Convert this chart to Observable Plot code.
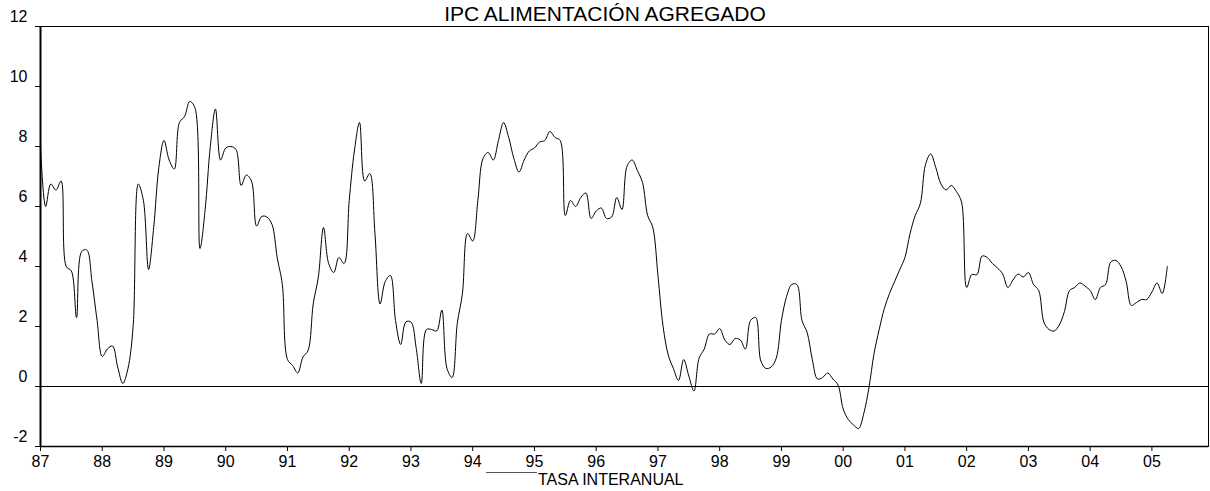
<!DOCTYPE html>
<html>
<head>
<meta charset="utf-8">
<script src="https://cdn.jsdelivr.net/npm/d3@7"></script>
<script src="https://cdn.jsdelivr.net/npm/@observablehq/plot@0.6"></script>
<style>
  html, body { margin: 0; padding: 0; background: #fff; }
  #wrap { position: relative; width: 1210px; height: 491px; font-family: "Liberation Sans", Arial, sans-serif; }
  #title { position: absolute; left: 0; width: 1210px; top: 2px; text-align: center; font-size: 21px; color: #000; }
  #legend { position: absolute; top: 469px; left: 486px; font-size: 16px; color: #000; display: flex; align-items: flex-start; }
  #legend .swatch { width: 51px; height: 0; border-top: 1.5px solid #555; margin-top: 3px; }
  #legend .lbl { margin-left: 1px; margin-top: 2px; }
</style>
</head>
<body>
<div id="wrap">
  <div id="chart"></div>
  <div id="title">IPC ALIMENTACIÓN AGREGADO</div>
  <div id="legend"><div class="swatch"></div><div class="lbl">TASA INTERANUAL</div></div>
</div>
<script>
// Monthly series, starting January 1987
const startYear = 1987;
const endYearFrac = 1987 + 227 / 12; // sample end: December 2005
const seriesName = "TASA INTERANUAL";
const tasaInteranual = [
  // 1987
  8.0, 6.0, 6.75, 6.55, 6.85, 4.0, 3.85, 2.3, 4.5, 4.55, 3.5, 2.2,
  // 1988
  1.0, 1.25, 1.35, 0.65, 0.1, 0.6, 2.0, 6.75, 6.2, 3.9, 5.3, 7.3,
  // 1989
  8.2, 7.55, 7.25, 8.8, 9.0, 9.5, 9.3, 4.6, 5.9, 8.0, 9.25, 7.55,
  // 1990
  7.95, 8.0, 7.9, 6.7, 7.05, 6.85, 5.35, 5.67, 5.65, 5.4, 4.3, 3.4,
  // 1991
  0.9, 0.7, 0.45, 0.98, 1.2, 2.75, 3.65, 5.3, 4.1, 3.8, 4.3, 4.1,
  // 1992
  6.2, 7.85, 8.8, 6.85, 7.1, 5.1, 2.75, 3.5, 3.7, 2.2, 1.4, 2.15,
  // 1993
  2.15, 1.3, 0.1, 1.9, 1.9, 1.85, 2.55, 0.6, 0.3, 2.1, 3.1, 5.1,
  // 1994
  4.85, 6.2, 7.6, 7.8, 7.55, 8.2, 8.8, 8.3, 7.6, 7.15, 7.55, 7.85,
  // 1995
  7.95, 8.15, 8.2, 8.5, 8.3, 8.2, 5.7, 6.2, 6.0, 6.3, 6.45, 5.6,
  // 1996
  5.85, 5.95, 5.6, 5.65, 6.3, 5.9, 7.35, 7.55, 7.2, 6.8, 5.7, 5.3,
  // 1997
  3.7, 2.0, 1.05, 0.6, 0.2, 0.9, 0.35, -0.15, 0.95, 1.25, 1.75, 1.75,
  // 1998
  1.93, 1.55, 1.4, 1.6, 1.55, 1.25, 2.2, 2.3, 0.85, 0.6, 0.65, 0.95,
  // 1999
  2.2, 3.0, 3.4, 3.4, 2.2, 1.8, 0.9, 0.25, 0.3, 0.45, 0.25, 0.05,
  // 2000
  -0.75, -1.1, -1.28, -1.4, -0.9, -0.05, 1.1, 1.9, 2.6, 3.1, 3.5, 3.9,
  // 2001
  4.3, 5.1, 5.7, 6.1, 7.4, 7.75, 7.3, 6.75, 6.55, 6.7, 6.5, 6.15,
  // 2002
  3.3, 3.73, 3.73, 4.35, 4.3, 4.1, 3.95, 3.75, 3.3, 3.55, 3.75, 3.65,
  // 2003
  3.8, 3.4, 3.2, 2.15, 1.9, 1.85, 2.05, 2.5, 3.2, 3.3, 3.45, 3.35,
  // 2004
  3.2, 2.9, 3.3, 3.4, 4.15, 4.2, 4.0, 3.5, 2.7, 2.8, 2.9, 2.9,
  // 2005
  3.15, 3.45, 3.1, 4.0
];
const yTicks = [-2, 0, 2, 4, 6, 8, 10, 12];
const xTickYears = d3.range(1987, 2006);
const xTickLabels = ["87","88","89","90","91","92","93","94","95","96","97","98","99","00","01","02","03","04","05"];

const data = tasaInteranual.map((v, i) => ({ t: startYear + i / 12, v }));

const chart = Plot.plot({
  width: 1210,
  height: 491,
  marginLeft: 40,
  marginRight: 2,
  marginTop: 26,
  marginBottom: 45,
  style: { fontFamily: '"Liberation Sans", Arial, sans-serif', fontSize: "16px", color: "#000", background: "#fff" },
  x: { domain: [startYear, endYearFrac], type: "linear" },
  y: { domain: [-2, 12] },
  marks: [
    Plot.frame({ stroke: "#000", strokeWidth: 1 }),
    Plot.ruleY([0], { stroke: "#000", strokeWidth: 1 }),
    Plot.axisY({ ticks: yTicks, tickSize: 5, label: null, tickFormat: () => "" }),
    Plot.axisY({ ticks: yTicks, tickSize: 0, tickPadding: 13, dy: -10, label: null, tickFormat: d => d }),
    Plot.axisX({ ticks: xTickYears, tickSize: 5, tickPadding: 4, label: null, tickFormat: (d) => xTickLabels[xTickYears.indexOf(d)] }),
    Plot.ruleX([startYear], { stroke: "#000", strokeWidth: 2 }),
    Plot.ruleY([-2], { stroke: "#000", strokeWidth: 1.5 }),
    Plot.lineY(data, { x: "t", y: "v", stroke: "#000", strokeWidth: 1, curve: "catmull-rom" })
  ]
});
document.getElementById("chart").appendChild(chart);
</script>
</body>
</html>
